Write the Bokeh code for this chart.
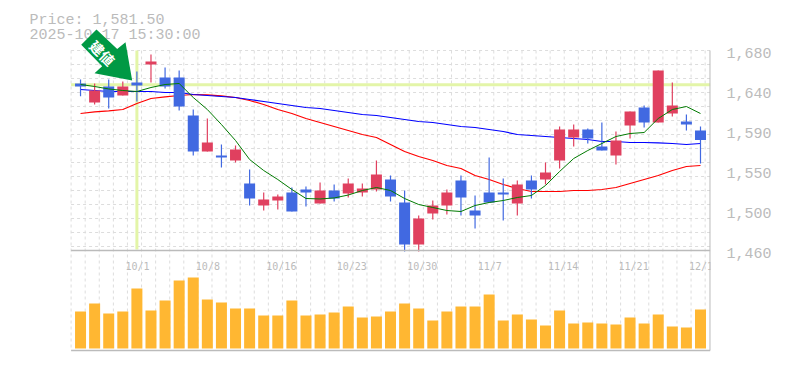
from bokeh.plotting import figure
from bokeh.embed import file_html
from bokeh.resources import INLINE
from bokeh.models import Range1d, LinearAxis, FixedTicker, Label, PolyAnnotation
from bokeh.core.properties import value

high = [1648.1,1643.7,1648.1,1645.9,1656.9,1675.6,1661.3,1658.0,1615.1,1605.2,1576.6,1575.5,1549.1,1523.8,1521.6,1529.3,1530.4,1534.8,1532.6,1539.2,1533.7,1559.0,1542.5,1526.0,1498.5,1515.0,1527.1,1542.5,1520.5,1562.3,1539.2,1537.0,1542.5,1556.8,1596.4,1598.6,1594.2,1600.8,1590.9,1612.9,1619.5,1658.0,1644.8,1609.6,1596.4]
low = [1629.7,1620.6,1616.2,1630.5,1623.9,1644.8,1638.2,1614.0,1564.5,1568.9,1551.3,1556.8,1509.5,1504.0,1505.1,1502.9,1508.4,1511.7,1513.9,1518.3,1519.4,1524.9,1513.9,1458.9,1458.9,1494.1,1499.6,1498.5,1484.2,1513.9,1493.0,1498.5,1517.2,1532.6,1550.2,1574.4,1577.7,1570.0,1554.6,1583.2,1595.3,1600.8,1607.4,1592.0,1555.7]
open_ = [1643.7,1622.8,1640.4,1630.5,1644.8,1664.6,1650.3,1650.3,1608.5,1568.9,1564.5,1559.0,1533.7,1509.5,1515.0,1523.8,1527.1,1511.7,1526.0,1522.7,1523.8,1527.1,1538.1,1512.8,1466.6,1500.7,1509.5,1537.0,1504.0,1523.8,1523.8,1511.7,1537.0,1538.1,1559.0,1584.3,1593.1,1574.4,1564.5,1597.5,1617.3,1600.8,1610.7,1601.9,1592.0]
close = [1640.4,1636.0,1628.3,1640.4,1641.5,1667.9,1640.4,1618.4,1568.9,1578.8,1562.3,1571.1,1517.2,1516.1,1519.4,1502.9,1523.8,1526.0,1517.2,1533.7,1528.2,1543.6,1519.4,1466.6,1495.2,1509.5,1523.8,1518.3,1498.5,1512.8,1521.6,1532.6,1527.1,1545.8,1593.1,1593.1,1583.2,1570.0,1581.0,1612.9,1600.8,1658.0,1619.5,1598.6,1581.5]
ma_short = [1642.6,1640.4,1637.7,1636.0,1634.9,1639.3,1642.6,1643.7,1628.3,1615.1,1598.6,1581.0,1560.1,1548.0,1538.1,1527.1,1517.2,1516.7,1517.8,1521.0,1526.0,1529.3,1526.0,1517.2,1510.6,1507.3,1504.0,1502.9,1509.5,1512.8,1515.0,1518.3,1520.5,1531.5,1546.9,1561.2,1570.0,1577.7,1585.4,1588.7,1589.8,1605.2,1615.1,1618.4,1610.7]
ma_mid = [1637.1,1636.0,1634.9,1634.9,1634.9,1634.9,1633.8,1633.8,1631.6,1630.5,1629.4,1628.3,1626.1,1623.9,1621.7,1619.5,1617.3,1616.2,1614.0,1611.8,1609.6,1608.5,1606.3,1604.1,1601.9,1600.8,1598.6,1596.4,1595.3,1593.1,1590.9,1587.6,1586.5,1585.4,1584.3,1583.2,1582.1,1579.9,1579.9,1578.8,1578.8,1578.3,1577.7,1576.6,1577.7]
ma_long = [1610.7,1612.4,1613.5,1615.1,1621.7,1627.2,1628.9,1630.5,1631.6,1631.1,1630.0,1628.3,1625.0,1620.6,1615.1,1610.7,1605.2,1600.8,1596.4,1592.0,1587.6,1584.3,1576.6,1568.9,1563.4,1559.0,1553.5,1550.2,1542.5,1538.1,1532.6,1528.2,1524.9,1524.9,1524.9,1526.0,1526.0,1527.1,1529.3,1533.7,1538.1,1542.5,1548.0,1552.4,1553.5]
volume = [37,45,35,37,60,38,48,68,71,49,46,40,40,33,33,48,33,34,36,42,31,32,37,45,40,28,37,42,42,54,28,34,29,23,38,25,26,25,24,31,25,34,22,21,39]

date_index = [4,9,14,19,24,29,34,39,44]
date_labels = ["10/1","10/8","10/16","10/23","10/30","11/7","11/14","11/21","12/1"]
price_ticks = [1680,1636,1592,1548,1504,1460]
price_labels = ["1,680","1,640","1,590","1,550","1,500","1,460"]
entry_index = 4
entry_price = 1642.3
title_lines = ["Price: 1,581.50", "2025-10-17 15:30:00"]
entry_text = "建値"

GRAY = "#bbbbbb"
UP = "#e0405f"
DOWN = "#4169e1"
MONO = "Liberation Mono"

LEFT, RIGHT = -0.67, 44.69      # ends of the chart area, in candle positions
TOP, MID, BOTTOM = 1680, 1460, 1350   # ends of the price and volume panels

n = len(close)
p = figure(width=780, height=362, output_backend="svg", toolbar_location=None,
           x_axis_location=None, y_axis_location=None, tools="",
           x_range=Range1d(-5.68, 44.71), y_range=Range1d(1336.8, 1735),
           min_border=0, min_border_left=0, min_border_right=70, min_border_top=0, min_border_bottom=0,
           outline_line_color=None, background_fill_color="white")
p.extra_y_ranges = {"vol": Range1d(-14, 348), "lab": Range1d(1339, 1737.2)}
p.grid.visible = False

grid_x = [k - 0.67 for k in range(46)]
grid_y = [1680 - 15.4 * k for k in range(15)]
p.segment(x0=grid_x, x1=grid_x, y0=[TOP] * len(grid_x), y1=[BOTTOM] * len(grid_x),
          line_color="#dddddd", line_dash="3 3", line_width=1)
p.segment(x0=[LEFT] * len(grid_y), x1=[RIGHT] * len(grid_y), y0=grid_y, y1=grid_y,
          line_color="#dddddd", line_dash="3 3", line_width=1)

axis = LinearAxis(y_range_name="lab", ticker=FixedTicker(ticks=price_ticks),
                  major_label_overrides=dict(zip(price_ticks, price_labels)),
                  axis_line_color=None, major_tick_line_color=None, minor_tick_line_color=None,
                  major_label_standoff=10, major_label_text_font=MONO,
                  major_label_text_font_size="15px", major_label_text_color=GRAY)
p.add_layout(axis, "right")

# crosshair of the entry point
cross = "#e3f5a8"
p.segment(x0=[LEFT], x1=[RIGHT], y0=[entry_price], y1=[entry_price], line_color=cross, line_width=3)
p.segment(x0=[entry_index], x1=[entry_index], y0=[TOP], y1=[MID + 1], line_color=cross, line_width=3)

xs = list(range(n))
colors = [UP if c >= o else DOWN for o, c in zip(open_, close)]
p.vbar(x=xs, width=11 / 14.09, top=volume, bottom=0, fill_color="#ffb732", line_color=None, y_range_name="vol")

p.line(xs, ma_long, line_color="#ff0000", line_width=1.2)
p.line(xs, ma_mid, line_color="#0000ff", line_width=1.2)
p.segment(x0=xs, x1=xs, y0=low, y1=high, line_color=colors, line_width=1.2)
p.vbar(x=xs, width=11 / 14.09, top=[max(a, b) for a, b in zip(open_, close)],
       bottom=[min(a, b) for a, b in zip(open_, close)], fill_color=colors, line_color=None)
p.line(xs, ma_short, line_color="#007a00", line_width=1)

# panel frame lines
p.segment(x0=[LEFT, LEFT, RIGHT], x1=[RIGHT, RIGHT, RIGHT], y0=[MID, BOTTOM, TOP], y1=[MID, BOTTOM, BOTTOM],
          line_color=GRAY, line_width=1.5)

p.text(x=date_index, y=[MID] * len(date_index), text=date_labels, x_offset=-11.5, y_offset=15.5,
       text_font=value("DejaVu Sans Mono"), text_font_size="10px", text_color=GRAY,
       text_align="left", text_baseline="alphabetic")

for line, base in zip(title_lines, (20, 34.5)):
    p.add_layout(Label(x=29, y=base, x_units="canvas", y_units="canvas", text=line,
                       text_font=MONO, text_font_size="15px", text_color=GRAY,
                       text_baseline="alphabetic", text_align="left"))

p.add_layout(PolyAnnotation(
    xs=[96, 116.7, 125, 131.7, 94, 101.7, 80.7], ys=[29, 48.5, 41.7, 80, 72.7, 65.7, 44.3],
    xs_units="canvas", ys_units="canvas", fill_color="#009944", fill_alpha=1, line_color=None))
p.add_layout(Label(x=102, y=52.5, x_units="canvas", y_units="canvas", text=entry_text, angle=-45, angle_units="deg",
                   text_font="Noto Sans CJK JP", text_font_style="bold", text_font_size="14px", text_color="white",
                   text_align="center", text_baseline="middle"))

open("out.html", "w").write(file_html(p, INLINE))
